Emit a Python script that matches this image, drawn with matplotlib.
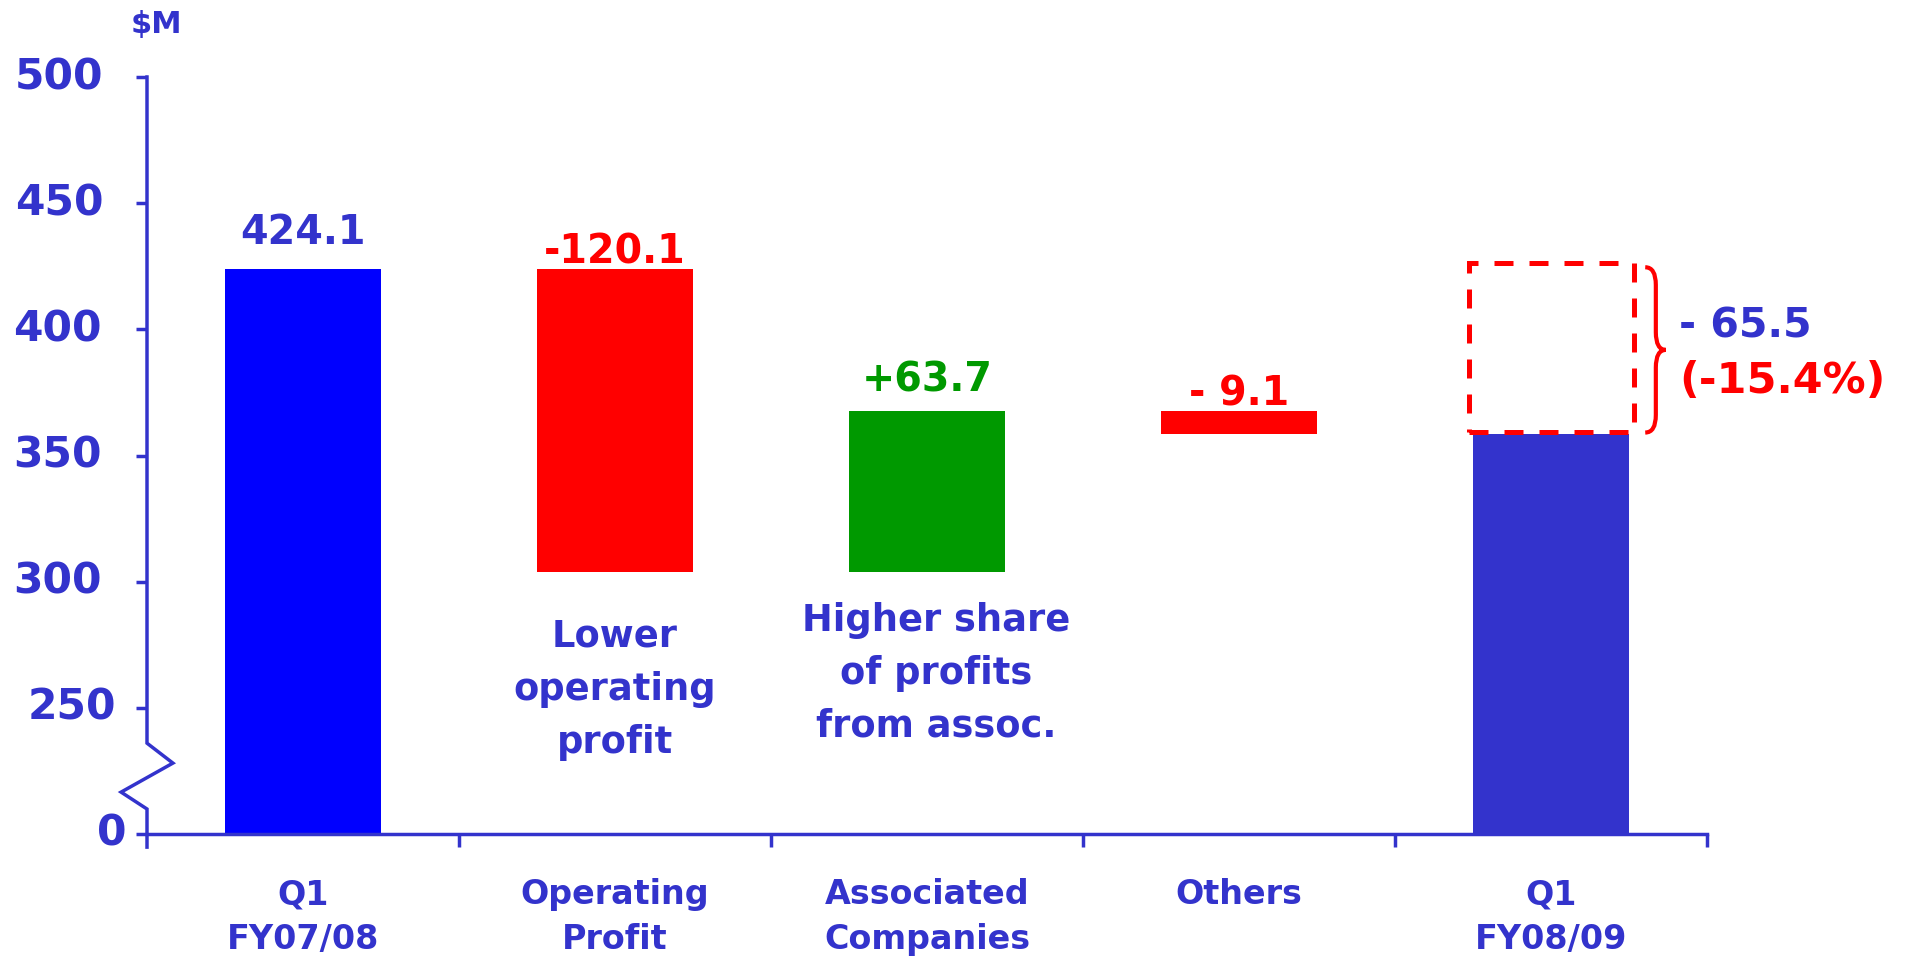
import matplotlib.pyplot as plt
from matplotlib.patches import Rectangle, PathPatch
from matplotlib.path import Path
from matplotlib.lines import Line2D

# Data
categories = ["Q1\nFY07/08", "Operating\nProfit", "Associated\nCompanies", "Others", "Q1\nFY08/09"]
start_total = 424.1
changes = [-120.1, 63.7, -9.1]
end_total = 358.6
change_labels = ["424.1", "-120.1", "+63.7", "- 9.1"]
total_change = "- 65.5"
total_pct = "(-15.4%)"
notes = ["Lower\noperating\nprofit", "Higher share\nof profits\nfrom assoc."]
ytick_values = [0, 250, 300, 350, 400, 450, 500]

BLUE = "#3333CC"
RED = "#FF0000"
GREEN = "#009900"

plt.rcParams['font.family'] = ['DejaVu Sans']
plt.rcParams['font.weight'] = 'bold'


# broken axis: everything below 250 is squeezed into 200..250
def to_axis(v):
    return v if v >= 250 else 200 + v * 50 / 250


fig = plt.figure(figsize=(19.08, 9.6), dpi=100)
ax = fig.add_axes([147 / 1908, 126 / 960, 1560 / 1908, 757 / 960])
ax.set_xlim(-0.5, 4.5)
ax.set_ylim(200, 500)

# waterfall bars
levels = [start_total]
for c in changes:
    levels.append(levels[-1] + c)

ax.bar(0, to_axis(start_total) - to_axis(0), bottom=to_axis(0), width=0.5, color="#0000FF")
colors = [RED if c < 0 else GREEN for c in changes]
for i, c in enumerate(changes):
    lo, hi = sorted([levels[i], levels[i + 1]])
    ax.bar(i + 1, hi - lo, bottom=lo, width=0.5, color=colors[i])
ax.bar(4, to_axis(end_total) - to_axis(0), bottom=to_axis(0), width=0.5, color=BLUE)

# value labels above bars
label_colors = [BLUE] + colors
label_offsets = [18, 3.5, 14, 3.5]
tops = [start_total] + [max(levels[i], levels[i + 1]) for i in range(len(changes))]
for i, (txt, top) in enumerate(zip(change_labels, tops)):
    ax.annotate(txt, xy=(i, top), xytext=(0, label_offsets[i]), textcoords="offset points",
                ha="center", va="baseline", fontsize=28.5, color=label_colors[i])

# notes under the change bars
ax.text(1, 257.4, notes[0], ha="center", va="center", fontsize=26.5, color=BLUE,
        linespacing=1.55)
ax.text(2.03, 263.8, notes[1], ha="center", va="center", fontsize=26.5, color=BLUE,
        linespacing=1.55)

# dashed box and brace showing the overall drop
ax.add_patch(Rectangle((4 - 0.264, end_total + 0.7), 0.529, start_total - end_total + 1.5,
                       fill=False, edgecolor=RED, lw=3.6, linestyle=(0, (3.8, 3.2)),
                       clip_on=False))
top, bot = start_total + 0.5, end_total + 0.5
mid = (top + bot) / 2
xl, xm, xt, r = 4.302, 4.336, 4.368, 7
verts = [(xl, top), (xm, top), (xm, top - r), (xm, mid + r), (xm, mid), (xt, mid),
         (xm, mid), (xm, mid - r), (xm, bot + r), (xm, bot), (xl, bot)]
codes = [Path.MOVETO, Path.CURVE3, Path.CURVE3, Path.LINETO, Path.CURVE3, Path.CURVE3,
         Path.CURVE3, Path.CURVE3, Path.LINETO, Path.CURVE3, Path.CURVE3]
ax.add_patch(PathPatch(Path(verts, codes), fill=False, edgecolor=RED, lw=3, clip_on=False))
ax.text(4.41, 401.3, total_change, ha="left", va="center", fontsize=29.5, color=BLUE, clip_on=False)
ax.text(4.41, 379.5, total_pct, ha="left", va="center", fontsize=31, color=RED, clip_on=False)

# axes styling
for s in ["top", "right", "left"]:
    ax.spines[s].set_visible(False)
ax.spines["bottom"].set_color(BLUE)
ax.spines["bottom"].set_linewidth(2.5)

# y axis with break
ax.add_line(Line2D([-0.5, -0.5, -0.417, -0.583, -0.5, -0.5],
                   [500, 236, 228.1, 216.6, 209.9, 194.8],
                   color=BLUE, lw=2.5, clip_on=False, solid_joinstyle="miter"))
ax.set_yticks([to_axis(v) for v in ytick_values])
ax.set_yticklabels([])
ax.tick_params(axis="y", length=8, width=2.5, color=BLUE)
label_gap = {0: 14.5, 250: 22.5, 300: 32.5, 350: 32.5, 400: 32.5, 450: 31.5, 500: 31.5}
for v in ytick_values:
    ax.annotate(str(v), xy=(0, to_axis(v)), xycoords=ax.get_yaxis_transform(),
                xytext=(-label_gap[v], 0), textcoords="offset points",
                ha="right", va="center", fontsize=30.5, color=BLUE)

# x axis: ticks between categories, labels centred under bars
ax.set_xticks([0.5, 1.5, 2.5, 3.5, 4.5])
ax.set_xticklabels([])
ax.tick_params(axis="x", which="major", length=9, width=2.5, color=BLUE, direction="out")
ax.set_xticks(range(len(categories)), minor=True)
ax.set_xticklabels(categories, minor=True, fontsize=24, color=BLUE, linespacing=1.44)
ax.tick_params(axis="x", which="minor", length=0, pad=32)

fig.text(156 / 1908, 1 - 24 / 960, "$M", ha="center", va="center", fontsize=22, color=BLUE)

fig.savefig("out.png", dpi=100)
